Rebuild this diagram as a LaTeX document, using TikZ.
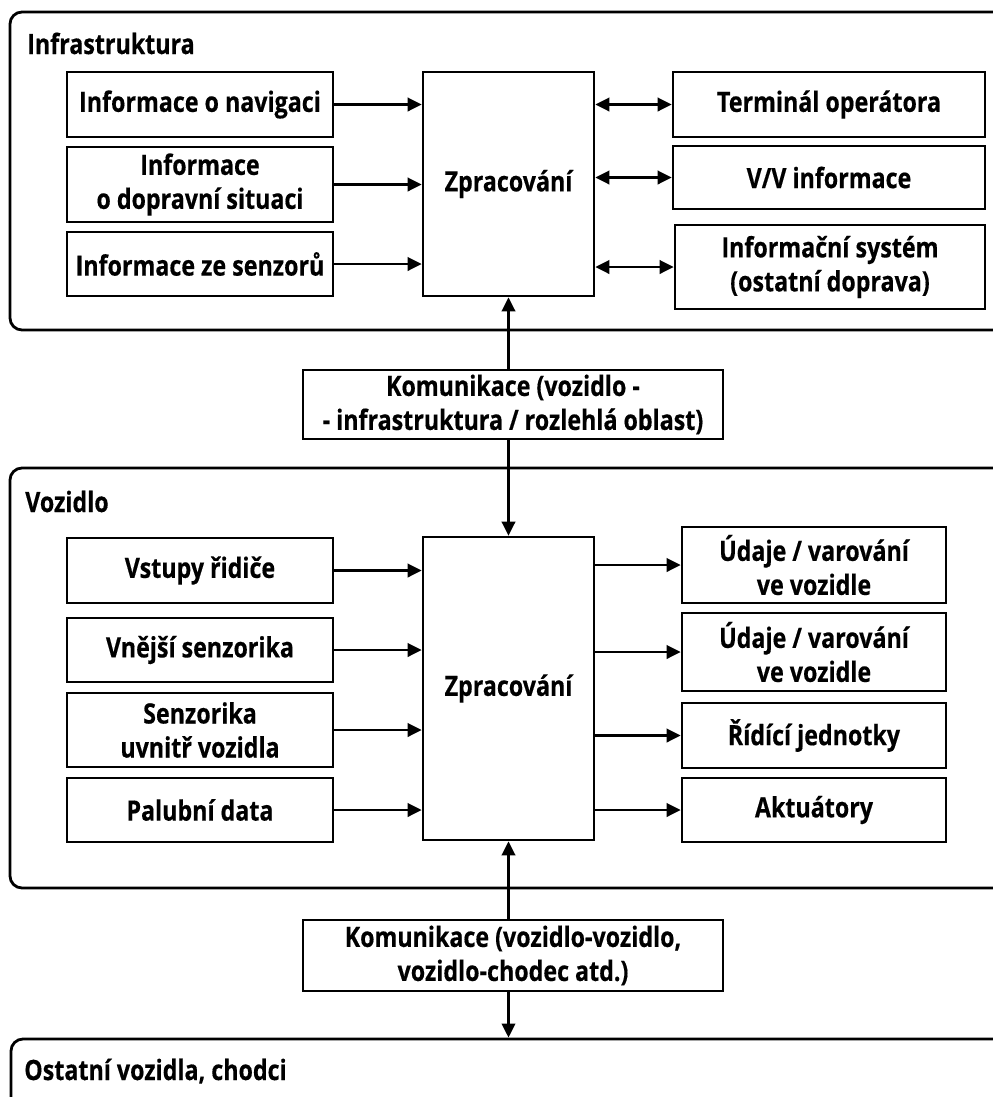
\documentclass[tikz,border=0pt]{standalone}
\usepackage{fontspec}
\setmainfont{Open Sans}[FakeStretch=0.83, BoldFeatures={FakeBold=0.4}]
\usetikzlibrary{arrows.meta}
\tikzset{
  box/.style={draw=black, line width=2pt, fill=white, inner sep=0pt, align=center,
    font=\bfseries\fontsize{21}{25.5}\selectfont},
  container/.style={draw=black, line width=2.1pt, rounded corners=9pt, inner sep=0pt},
  contlabel/.style={anchor=base west, inner sep=0pt, font=\bfseries\fontsize{21}{25.5}\selectfont},
  arr/.style={line width=2pt, -{Triangle[length=10.5pt,width=10pt]}},
  darr/.style={line width=2pt, {Triangle[length=10.5pt,width=10pt]}-{Triangle[length=10.5pt,width=10pt]}}
}
\newcommand\mybx[7][box]{\node[#1, minimum width={(#4-#2)*0.75pt}, minimum height={(#5-#3)*0.75pt}] (#6) at ({(#2+#4)/2},{(#3+#5)/2}) {#7};}
\begin{document}
\begin{tikzpicture}[x=0.75pt,y=-0.75pt]
\useasboundingbox (0,0) rectangle (993,1097);
\clip (0,0) rectangle (993,1097);
% containers
\mybx[container]{10}{12}{1010}{330}{infra}{}
\mybx[container]{10}{468}{1010}{888}{voz}{}
\mybx[container]{11}{1039}{1010}{1140}{ost}{}
\node[contlabel] (linfra) at (27,54) {Infrastruktura};
\node[contlabel] (lvoz) at (25,512) {Vozidlo};
\node[contlabel] (lost) at (24,1080) {Ostatní vozidla, chodci};
% infrastructure
\mybx{67}{72}{333}{137}{nav}{Informace o navigaci}
\mybx{67}{147}{333}{222}{dop}{Informace\\o dopravní situaci}
\mybx{67}{232}{333}{296}{sen}{Informace ze senzorů}
\mybx{423}{72}{594}{296}{zp1}{Zpracování}
\mybx{673}{72}{985}{137}{ter}{Terminál operátora}
\mybx{673}{146}{985}{209}{vv}{V/V informace}
\mybx{675}{225}{985}{309}{ins}{Informační systém\\(ostatní doprava)}
% communication 1
\mybx{303}{370}{723}{439}{kom1}{Komunikace (vozidlo -\\- infrastruktura / rozlehlá oblast)}
% vehicle
\mybx{67}{538}{333}{603}{vst}{Vstupy řidiče}
\mybx{67}{618}{333}{682}{vne}{Vnější senzorika}
\mybx{67}{693}{333}{767}{uvn}{Senzorika\\uvnitř vozidla}
\mybx{67}{778}{333}{842}{pal}{Palubní data}
\mybx{423}{537}{594}{840}{zp2}{Zpracování}
\mybx{682}{527}{946}{603}{ud1}{Údaje / varování\\ve vozidle}
\mybx{682}{613}{946}{691}{ud2}{Údaje / varování\\ve vozidle}
\mybx{682}{703}{946}{768}{rid}{Řídící jednotky}
\mybx{682}{778}{946}{842}{akt}{Aktuátory}
% communication 2
\mybx{303}{920}{723}{991}{kom2}{Komunikace (vozidlo-vozidlo,\\vozidlo-chodec atd.)}
% arrows infrastructure
\draw[arr] (nav.east) -- (zp1.west |- nav.east);
\draw[arr] (dop.east) -- (zp1.west |- dop.east);
\draw[arr] (sen.east) -- (zp1.west |- sen.east);
\draw[darr] (zp1.east |- ter.west) -- (ter.west);
\draw[darr] (zp1.east |- vv.west) -- (vv.west);
\draw[darr] (zp1.east |- ins.west) -- (ins.west);
% vertical
\draw[arr] (zp1.south |- kom1.north) -- (zp1.south);
\draw[arr] (zp1.south |- kom1.south) -- (zp2.north);
\draw[arr] (zp2.south |- kom2.north) -- (zp2.south);
\draw[arr] (zp2.south |- kom2.south) -- (zp2.south |- ost.north);
% arrows vehicle
\draw[arr] (vst.east) -- (zp2.west |- vst.east);
\draw[arr] (vne.east) -- (zp2.west |- vne.east);
\draw[arr] (uvn.east) -- (zp2.west |- uvn.east);
\draw[arr] (pal.east) -- (zp2.west |- pal.east);
\draw[arr] (zp2.east |- ud1.west) -- (ud1.west);
\draw[arr] (zp2.east |- ud2.west) -- (ud2.west);
\draw[arr] (zp2.east |- rid.west) -- (rid.west);
\draw[arr] (zp2.east |- akt.west) -- (akt.west);
\end{tikzpicture}
\end{document}
